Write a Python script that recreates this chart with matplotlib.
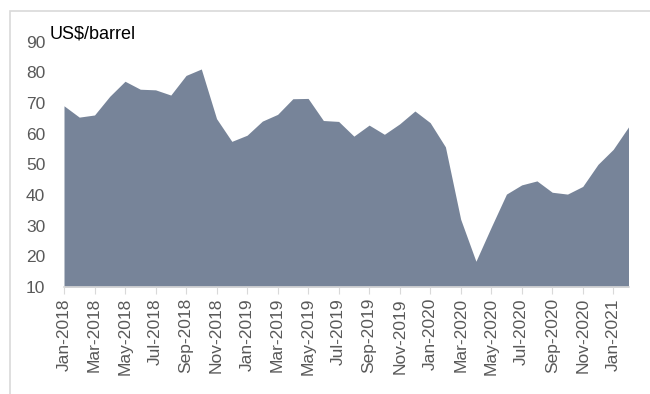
import matplotlib
matplotlib.use("Agg")
from matplotlib import pyplot as plt
from matplotlib.patches import Rectangle

plt.rcParams['font.family'] = ['Liberation Sans', 'DejaVu Sans']

months = ["Jan-2018", "Feb-2018", "Mar-2018", "Apr-2018", "May-2018", "Jun-2018",
          "Jul-2018", "Aug-2018", "Sep-2018", "Oct-2018", "Nov-2018", "Dec-2018",
          "Jan-2019", "Feb-2019", "Mar-2019", "Apr-2019", "May-2019", "Jun-2019",
          "Jul-2019", "Aug-2019", "Sep-2019", "Oct-2019", "Nov-2019", "Dec-2019",
          "Jan-2020", "Feb-2020", "Mar-2020", "Apr-2020", "May-2020", "Jun-2020",
          "Jul-2020", "Aug-2020", "Sep-2020", "Oct-2020", "Nov-2020", "Dec-2020",
          "Jan-2021", "Feb-2021"]
price = [69.1, 65.4, 66.1, 72.2, 77.1, 74.5, 74.3, 72.6, 79.0, 81.1, 64.9, 57.5,
         59.5, 64.1, 66.3, 71.4, 71.5, 64.3, 64.0, 59.2, 62.8, 59.8, 63.2, 67.4,
         63.6, 55.7, 32.1, 18.4, 29.5, 40.3, 43.3, 44.6, 40.9, 40.3, 42.8, 50.0,
         54.9, 62.2]
tick_every = 2

xs = list(range(len(price)))

fig = plt.figure(figsize=(6.5, 3.94), dpi=100)
# light grey frame around the chart
fig.patches.append(Rectangle((10/650, -0.05), 1.0, 1 - 11/394 + 0.05,
                             transform=fig.transFigure, fill=False,
                             edgecolor='#d9d9d9', linewidth=1.2))

ax = fig.add_axes([64/650, 1 - 287/394, 564.5/650, (287 - 41.7)/394])
ax.fill_between(xs, 10, price, color='#778499', linewidth=0)
ax.set_xlim(0, len(price) - 1)
ax.set_ylim(10, 90)

ax.set_yticks(range(10, 91, 10))
ax.tick_params(axis='y', length=0, labelsize=12.5, labelcolor='#595959', pad=13.5)
ax.set_xticks(xs[::tick_every])
ax.set_xticklabels(months[::tick_every], rotation=90)
ax.tick_params(axis='x', length=5, color='#d9d9d9', labelsize=12.5,
               labelcolor='#595959', pad=3)

for s in ['top', 'right', 'left']:
    ax.spines[s].set_visible(False)
ax.spines['bottom'].set_color('#d9d9d9')
ax.spines['bottom'].set_linewidth(1.2)

fig.text(50/650, 1 - 34/394, "US$/barrel", fontsize=13, color='black', va='center')

fig.savefig("out.png", dpi=100)
